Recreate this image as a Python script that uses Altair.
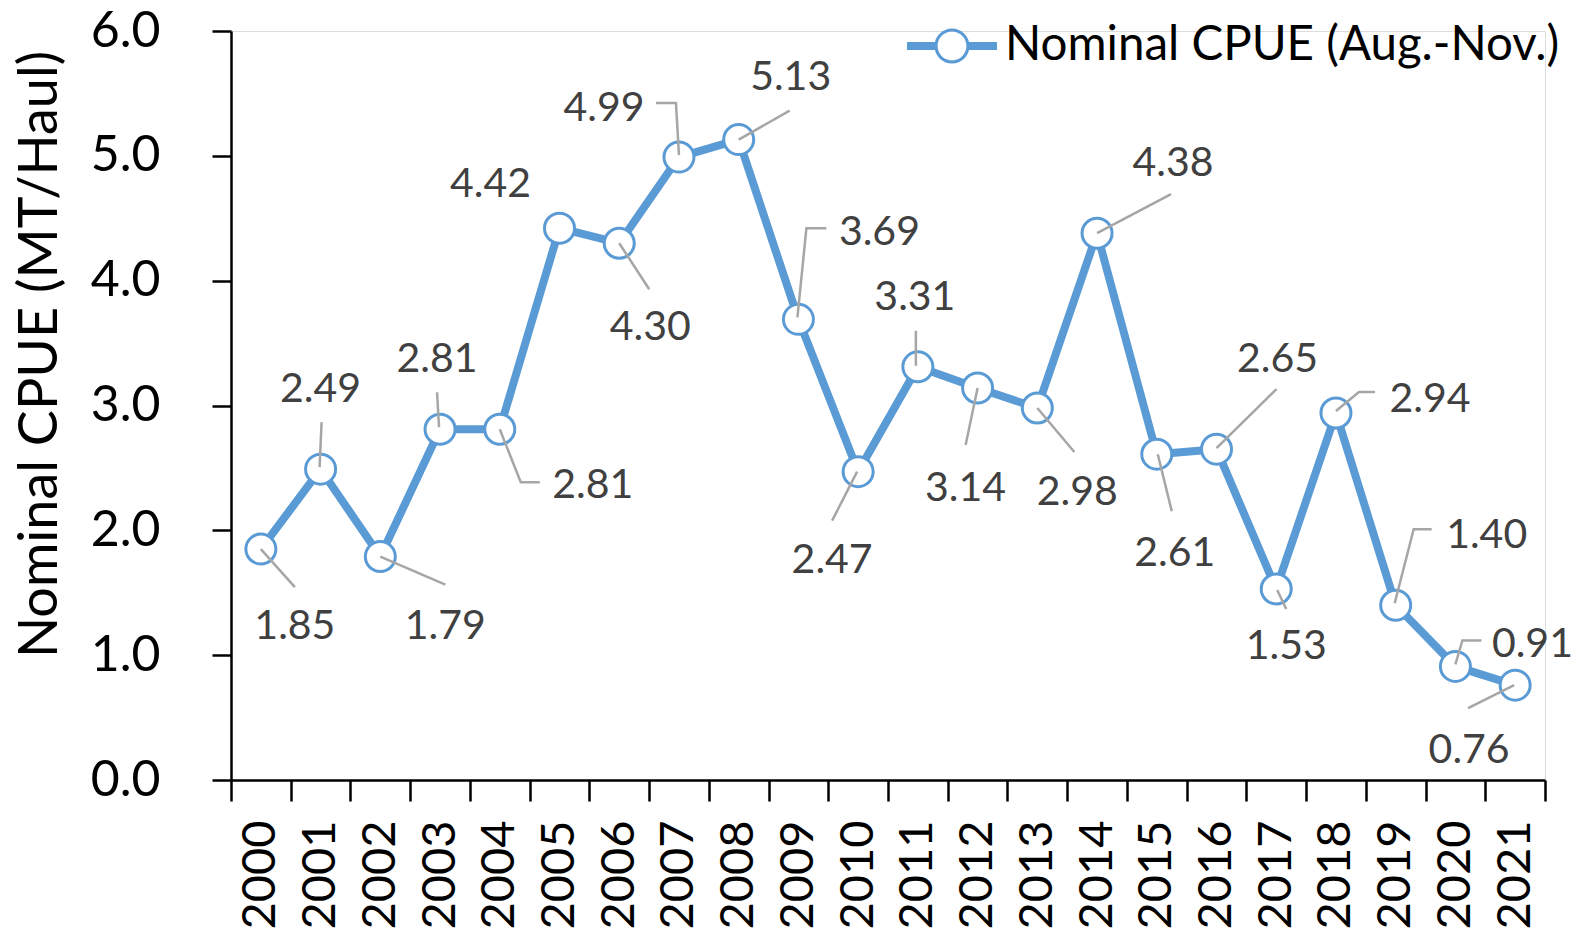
import altair as alt
import pandas as pd

# ---- data ----
years = ["2000", "2001", "2002", "2003", "2004", "2005", "2006", "2007", "2008", "2009", "2010",
         "2011", "2012", "2013", "2014", "2015", "2016", "2017", "2018", "2019", "2020", "2021"]
cpue = [1.85, 2.49, 1.79, 2.81, 2.81, 4.42, 4.30, 4.99, 5.13, 3.69, 2.47,
        3.31, 3.14, 2.98, 4.38, 2.61, 2.65, 1.53, 2.94, 1.40, 0.91, 0.76]
series_name = "Nominal CPUE (Aug.-Nov.)"

# ---- label layout (pixel offsets of each data label from its point) ----
label_offsets = [(34, 78), (0, -79), (65, 70), (-3, -69), (93, 57), (-69, -43), (31, 85),
                 (-75, -48), (52, -62), (81, -86), (-26, 89), (-3, -69), (-12, 101),
                 (40, 85), (76, -69), (18, 100), (61, -89), (10, 58), (94, -13),
                 (91, -69), (77, -21), (-46, 66)]
# leader-line shapes (symbol paths in pixels, relative to each point)
leader_paths = ["M0,0L34,38", "M-1,-2L1,-47", "M0,0L65,28", "M-1,-2L-3,-37",
                "M0,0L21,53L40,53", "M0,0", "M0,0L30,46", "M0,-2L-3,-54L-23,-54",
                "M0,0L51,-29", "M-1,-2L8,-91L28,-91", "M-1,0L-26,49", "M-2,-1L-2,-36",
                "M0,0L-12,57", "M0,0L37,44", "M0,0L74,-39", "M1,0L15,57",
                "M0,-1L60,-60", "M1,1L10,20", "M0,-2L23,-21L39,-21",
                "M-1,-2L18,-76L36,-76", "M0,-2L7,-26L26,-26", "M-1,0L-47,23"]

BLUE = "#5B9BD5"
GRAY = "#A6A6A6"
LABEL_COLOR = "#404040"
FONT = "Lato"
W, H = 1314, 749

# legend symbol: thick line with a hollow ring in the middle (unit coords)
LEGEND_PATH = ("M-1,-0.09L-0.36,-0.09L-0.36,0.09L-1,0.09Z "
               "M0.36,-0.09L1,-0.09L1,0.09L0.36,0.09Z "
               "M0.39,0A0.39,0.39 0 1,1 -0.39,0A0.39,0.39 0 1,1 0.39,0Z "
               "M0.32,0A0.32,0.32 0 1,0 -0.32,0A0.32,0.32 0 1,0 0.32,0Z")

df = pd.DataFrame({
    "idx": list(range(len(years))),
    "year": years,
    "value": cpue,
    "label": [f"{v:.2f}" for v in cpue],
    "leader": leader_paths,
    "series": [series_name] * len(years),
})

tick_vals = [i - 0.5 for i in range(len(years) + 1)]
label_expr = "[" + ",".join(f"'{y}'" for y in years) + "][datum.value + 0.5] || ''"

x_enc = alt.X(
    "idx:Q",
    scale=alt.Scale(domain=[-0.5, len(years) - 0.5], nice=False, zero=False),
    axis=alt.Axis(values=tick_vals, labelExpr=label_expr, labelAngle=-90,
                  labelOffset=W / len(years) / 2, labelFlush=False, labelOverlap=False,
                  tickSize=21, tickWidth=2.5, tickColor="black",
                  domainWidth=2.5, domainColor="black", labelPadding=19,
                  labelFont=FONT, labelFontSize=47, labelColor="black", grid=False,
                  title=None),
)
y_enc = alt.Y(
    "value:Q",
    scale=alt.Scale(domain=[0, 6], nice=False),
    axis=alt.Axis(values=[0, 1, 2, 3, 4, 5, 6], format=".1f", grid=False,
                  tickSize=19, tickWidth=2.5, tickColor="black",
                  domainWidth=2.5, domainColor="black", labelPadding=52,
                  labelFont=FONT, labelFontSize=50, labelColor="black",
                  title="Nominal CPUE (MT/Haul)", titleFont=FONT, titleFontSize=54,
                  titleFontWeight="normal", titleColor="black",
                  titleX=-191, titleY=323, titleAlign="center", titleBaseline="middle",
                  titleAngle=270),
)

base = alt.Chart(df).encode(x=x_enc, y=y_enc)

line = base.mark_line(strokeWidth=8, strokeJoin="round").encode(
    color=alt.Color(
        "series:N",
        scale=alt.Scale(range=[BLUE]),
        legend=alt.Legend(orient="none", legendX=676, legendY=-30, title=None,
                          symbolType=LEGEND_PATH, symbolSize=8100,
                          symbolFillColor=BLUE, symbolStrokeWidth=0,
                          labelFont=FONT, labelFontSize=47.5, labelColor="black",
                          labelOffset=8, labelLimit=900, padding=0, symbolOffset=0),
    )
)

points = base.mark_point(shape="circle", size=900, filled=True, fill="white",
                         stroke=BLUE, strokeWidth=3, opacity=1)

leaders = base.mark_point(filled=False, size=4, stroke=GRAY, strokeWidth=2.5,
                          opacity=1).encode(shape=alt.Shape("leader:N", scale=None))

labels = []
for i, (dx, dy) in enumerate(label_offsets):
    labels.append(
        base.transform_filter(alt.datum.idx == i).mark_text(
            dx=dx, dy=dy, align="center", baseline="middle",
            font=FONT, fontSize=41, color=LABEL_COLOR
        ).encode(text="label:N")
    )

chart = alt.layer(line, points, leaders, *labels).properties(
    width=W, height=H,
    padding={"left": 223, "top": 23, "right": 30, "bottom": 154},
    autosize=alt.AutoSizeParams(type="none"),
).configure_view(strokeOpacity=0).configure(font=FONT)

chart.save("out.html", embed_options={"renderer": "svg", "actions": False})
